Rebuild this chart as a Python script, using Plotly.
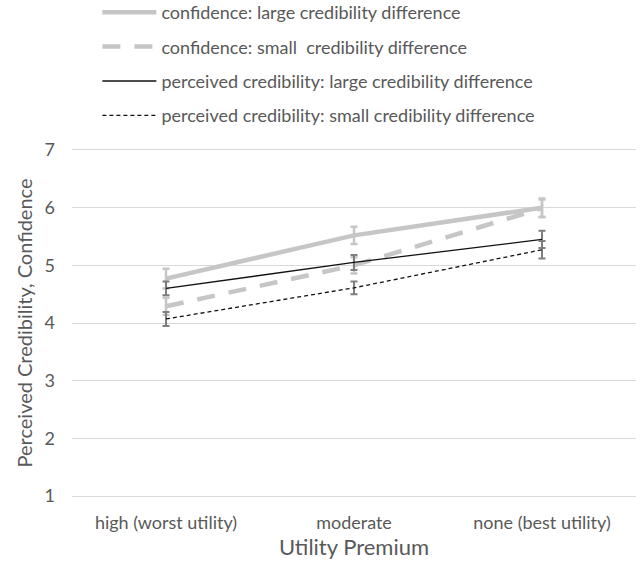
import plotly.graph_objects as go

categories = ["high (worst utility)", "moderate", "none (best utility)"]

conf_large = [4.77, 5.52, 6.00]
conf_large_err = [0.17, 0.15, 0.16]
conf_small = [4.29, 5.00, 5.99]
conf_small_err = [0.15, 0.14, 0.15]
cred_large = [4.60, 5.05, 5.45]
cred_large_err = [0.12, 0.13, 0.15]
cred_small = [4.07, 4.61, 5.27]
cred_small_err = [0.12, 0.11, 0.15]

series_names = [
    "confidence: large credibility difference",
    "confidence: small\u00a0 credibility difference",
    "perceived credibility: large credibility difference",
    "perceived credibility: small credibility difference",
]

FONT = "Lato, Open Sans, sans-serif"
TEXT = "#595959"
LIGHT = "#c6c6c6"
DARK = "#7f7f7f"
GRID = "#d9d9d9"

MARGIN_T, MARGIN_B = 150, 71
PLOT_H = 567 - MARGIN_T - MARGIN_B

fig = go.Figure()

specs = [
    (conf_large, conf_large_err, LIGHT, 4.5, "solid", LIGHT, 2.5),
    (conf_small, conf_small_err, LIGHT, 4.5, "18px,14px", LIGHT, 2.5),
    (cred_large, cred_large_err, "#111111", 1.3, "solid", DARK, 2),
    (cred_small, cred_small_err, "#111111", 1.3, "4px,3px", DARK, 2),
]

for i, (vals, errs, col, w, dash, ecol, ew) in enumerate(specs):
    fig.add_trace(go.Scatter(
        x=categories, y=vals, name=series_names[i], mode="lines",
        legendgroup=f"g{i}",
        line=dict(color=col, width=w, dash=dash),
        error_y=dict(type="data", array=errs, visible=True,
                     color=ecol, thickness=ew, width=3.5),
    ))

fig.update_layout(
    width=642, height=567,
    margin=dict(l=72, r=6, t=MARGIN_T, b=MARGIN_B, autoexpand=False),
    paper_bgcolor="white", plot_bgcolor="white",
    font=dict(family=FONT, size=18, color=TEXT),
    legend=dict(
        x=0.045, xref="paper", y=1 + (MARGIN_T + 6) / PLOT_H, yref="paper",
        xanchor="left", yanchor="top",
        itemwidth=54,
        tracegroupgap=8, font=dict(size=18, color=TEXT),
        bgcolor="rgba(0,0,0,0)",
    ),
    xaxis=dict(
        type="category", range=[-0.5, 2.5], automargin=False,
        showgrid=False, zeroline=False, ticks="",
        showline=True, linecolor=GRID, linewidth=1, mirror=True,
        ticklabelstandoff=10,
        tickfont=dict(size=18, color=TEXT),
        title=dict(text="Utility Premium", font=dict(size=22, color=TEXT), standoff=6),
    ),
    yaxis=dict(
        range=[1, 7], dtick=1, tick0=1, automargin=False,
        showgrid=True, gridcolor=GRID, gridwidth=1,
        zeroline=False, showline=False, ticks="",
        ticklabelstandoff=16,
        tickfont=dict(size=18, color=TEXT),
        title=dict(text="Perceived Credibility, Confidence",
                   font=dict(size=20, color=TEXT), standoff=6),
    ),
)

fig.write_html("out.html")
